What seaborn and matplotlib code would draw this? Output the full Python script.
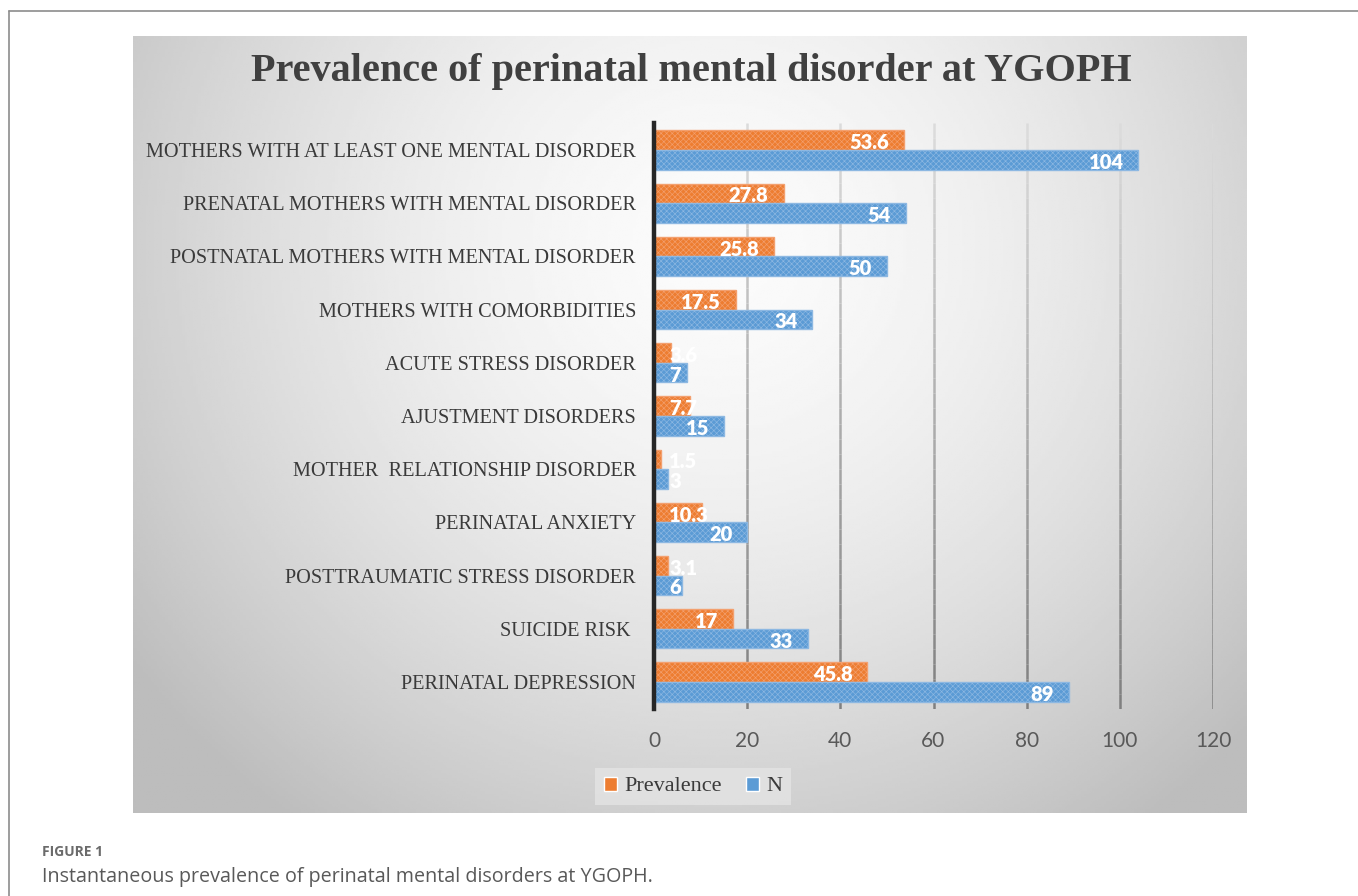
#!/usr/bin/env python3
"""
Prevalence of perinatal mental disorder at YGOPH - horizontal grouped bar chart.
"""
import numpy as np
import pandas as pd
import matplotlib
matplotlib.use('Agg')
import matplotlib.pyplot as plt
from matplotlib.lines import Line2D
from matplotlib.collections import LineCollection
import seaborn as sns

# Data (top to bottom as displayed)
categories = [
    'MOTHERS WITH AT LEAST ONE MENTAL DISORDER',
    'PRENATAL MOTHERS WITH MENTAL DISORDER',
    'POSTNATAL MOTHERS WITH MENTAL DISORDER',
    'MOTHERS WITH COMORBIDITIES',
    'ACUTE STRESS DISORDER',
    'AJUSTMENT DISORDERS',
    'MOTHER  RELATIONSHIP DISORDER',
    'PERINATAL ANXIETY',
    'POSTTRAUMATIC STRESS DISORDER',
    'SUICIDE RISK ',
    'PERINATAL DEPRESSION',
]
prevalence = [53.6, 27.8, 25.8, 17.5, 3.6, 7.7, 1.5, 10.3, 3.1, 17, 45.8]
n_counts = [104, 54, 50, 34, 7, 15, 3, 20, 6, 33, 89]
series = ['Prevalence', 'N']
x_ticks = [0, 20, 40, 60, 80, 100, 120]

df = pd.DataFrame({
    'category': categories * 2,
    'value': prevalence + n_counts,
    'series': [series[0]] * len(categories) + [series[1]] * len(categories),
})

sns.set_style('white')
plt.rcParams['hatch.linewidth'] = 0.45

W, H = 1358, 896
fig = plt.figure(figsize=(W / 100, H / 100), dpi=100)

def fx(px):
    return px / W

def fy(py):
    return 1 - py / H

# outer frame of the figure page
fig.add_artist(Line2D([fx(9), 1], [fy(11), fy(11)], color='#8c8c8c', lw=1.2))
fig.add_artist(Line2D([fx(9), fx(9)], [fy(11), 0], color='#8c8c8c', lw=1.2))

# gradient chart panel
px0, px1, py0, py1 = 133, 1247, 36, 813
bg = fig.add_axes([fx(px0), fy(py1), fx(px1 - px0), (py1 - py0) / H])
gx, gy = np.meshgrid(np.linspace(-1, 1, 400), np.linspace(-1, 1, 300))
r = np.sqrt(((gx - 0.05) / 1.15) ** 2 + ((gy + 0.45) / 1.6) ** 2)
shade = np.clip(0.985 - 0.2 * r ** 1.6, 0.74, 1)
bg.imshow(shade, cmap='gray', vmin=0, vmax=1, aspect='auto', extent=[0, 1, 0, 1], origin='upper')
bg.set_axis_off()
bg.set_zorder(0)

# main axes
ax_l, ax_r, ax_t, ax_b = 654, 1213, 123.4, 708.6
ax = fig.add_axes([fx(ax_l), fy(ax_b), fx(ax_r - ax_l), (ax_b - ax_t) / H])
ax.set_zorder(1)
ax.patch.set_alpha(0)

palette = {'Prevalence': '#ED7D31', 'N': '#5B9BD5'}
edges = {'Prevalence': '#F3A06F', 'N': '#8DB8E2'}
sns.barplot(data=df, y='category', x='value', hue='series', hue_order=series,
            order=categories, orient='h', palette=palette, width=0.74,
            saturation=1, ax=ax, zorder=3)

for cont, s in zip(ax.containers, series):
    for bar in cont:
        bar.set_hatch('xxxxxx')
        bar.set_edgecolor(edges[s])
        bar.set_linewidth(1.0)

ax.set_xlim(0, 120)
ax.set_xticks(x_ticks)
ax.set_xlabel('')
ax.set_ylabel('')
ylo, yhi = ax.get_ylim()

# vertical gridlines that darken towards the bottom, like the original
seg_y = np.linspace(yhi, ylo, 40)
segs, cols = [], []
for xt in x_ticks[1:]:
    for i in range(len(seg_y) - 1):
        segs.append([(xt, seg_y[i]), (xt, seg_y[i + 1])])
        f = i / (len(seg_y) - 2)
        g = 0.86 - 0.36 * f
        cols.append((g, g, g))
ax.add_collection(LineCollection(segs, colors=cols, linewidths=1.8, zorder=1))
ax.set_ylim(ylo, yhi)

for side in ['top', 'right', 'bottom']:
    ax.spines[side].set_visible(False)
ax.spines['left'].set_color('#262626')
ax.spines['left'].set_linewidth(3.2)
ax.spines['left'].set_zorder(5)
ax.tick_params(axis='y', length=0, pad=13, labelsize=14.6, labelcolor='#3a3a3a')
ax.tick_params(axis='x', length=0, pad=16, labelsize=15, labelcolor='#595959')
for lab in ax.get_yticklabels():
    lab.set_family('Liberation Serif')
for lab in ax.get_xticklabels():
    lab.set_family('Lato')

# data labels, Excel "inside end" style
fig.canvas.draw()
renderer = fig.canvas.get_renderer()
x_zero = ax.transData.transform((0, 0))[0]
for cont, vals in zip(ax.containers, [prevalence, n_counts]):
    for bar, v in zip(cont, vals):
        yc = bar.get_y() + bar.get_height() / 2
        kw = dict(textcoords='offset pixels', va='center_baseline', color='white',
                  fontsize=14.5, fontweight='heavy', family='Lato', zorder=6)
        t = ax.annotate(f'{v:g}', xy=(v, yc), xytext=(-15, -1), ha='right', **kw)
        bb = t.get_window_extent(renderer)
        if bb.x0 < x_zero + 15:
            t.remove()
            ax.annotate(f'{v:g}', xy=(0, yc), xytext=(15, -1), ha='left', **kw)

# legend below the plot
sns.move_legend(ax, loc='center', bbox_to_anchor=(fx(693), fy(786.5)),
                bbox_transform=fig.transFigure, ncol=2, title=None, frameon=True,
                handlelength=0.6, handleheight=0.6, handletextpad=0.3,
                columnspacing=1.1, borderpad=0.4, fancybox=False,
                prop={'family': 'Liberation Serif', 'size': 16})
leg = ax.get_legend()
leg.get_frame().set_facecolor('#e4e4e4')
leg.get_frame().set_edgecolor('none')
for txt in leg.get_texts():
    txt.set_color('#3a3a3a')

# title
fig.text(fx(691), fy(72), 'Prevalence of perinatal mental disorder at YGOPH',
         ha='center', va='center', family='Liberation Serif', fontweight='bold',
         fontsize=29, color='#404040')

# caption
fig.text(fx(42), fy(852), 'FIGURE 1', ha='left', va='center', family='Open Sans',
         fontweight='bold', fontsize=10, color='#6b6b6b')
fig.text(fx(42), fy(877), 'Instantaneous prevalence of perinatal mental disorders at YGOPH.',
         ha='left', va='center', family='Open Sans', fontsize=14.2, color='#595959')

fig.savefig('out.png', dpi=100)
plt.close('all')
